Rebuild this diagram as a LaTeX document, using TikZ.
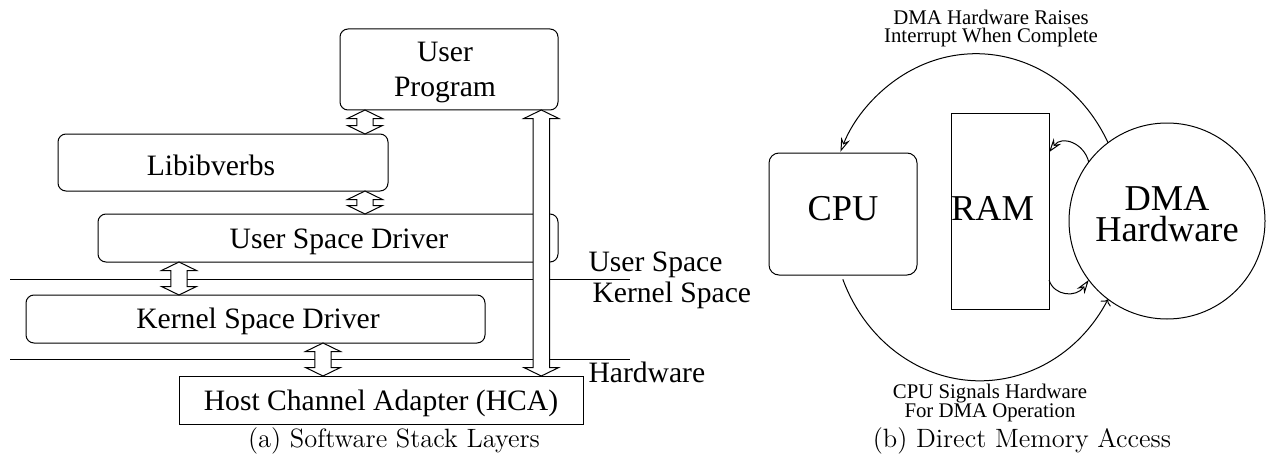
\documentclass[tikz,border=0pt]{standalone}
\usepackage{fontspec}
\usetikzlibrary{calc,arrows.meta}
\newfontfamily\tms{Liberation Serif}

% hollow double-headed block arrow between two points (top tip, bottom tip)
\newcommand\fatarrow[2]{%
  \draw[fatline] let \p1=#1, \p2=#2 in
    (\x1,\y1) -- (\x1+8.75pt,\y1-4.25pt) -- (\x1+4.1pt,\y1-4.25pt)
    -- (\x1+4.1pt,\y2+4.25pt) -- (\x1+8.75pt,\y2+4.25pt) -- (\x1,\y2)
    -- (\x1-8.75pt,\y2+4.25pt) -- (\x1-4.1pt,\y2+4.25pt)
    -- (\x1-4.1pt,\y1-4.25pt) -- (\x1-8.75pt,\y1-4.25pt) -- cycle;}

\begin{document}
\begin{tikzpicture}[x=0.5pt,y=-0.5pt,line width=0.5pt,
  layer/.style={draw,rounded corners=4pt,inner sep=0pt,outer sep=0pt},
  flat/.style={draw,inner sep=0pt,outer sep=0pt},
  fatline/.style={draw,fill=white,line width=0.5pt,line join=miter},
  txt/.style={font=\tms\fontsize{14.8pt}{17.5pt}\selectfont,inner sep=0pt,anchor=base,align=center},
  bigtxt/.style={font=\tms\fontsize{18.2pt}{14pt}\selectfont,inner sep=0pt,anchor=base},
  note/.style={font=\tms\fontsize{10.4pt}{9.25pt}\selectfont,inner sep=0pt,anchor=base,align=center},
  captxt/.style={font=\fontsize{13.25pt}{15pt}\selectfont,inner sep=0pt,anchor=base},
  flow/.style={-{Stealth[open,length=7pt,width=4.6pt,inset=2.4pt]}}]
\useasboundingbox (0,0) rectangle (1267,465);

% ---------- software stack ----------
\node[layer,minimum width=109pt,minimum height=40.5pt] (up)  at (449,69.5) {};
\node[layer,minimum width=165pt,minimum height=28.5pt] (lib) at (223,162.5) {};
\node[layer,minimum width=230pt,minimum height=24pt]   (usd) at (328,238) {};
\node[layer,minimum width=229.5pt,minimum height=24pt] (ksd) at (255.5,319) {};
\node[flat,minimum width=202pt,minimum height=24pt]    (hca) at (381,400) {};

% multi-line texts are anchored at the baseline of their last line
\node[txt] (uptext)  at (445,97)  {User\\Program};
\node[txt] (libtext) at (211,175) {Libibverbs};
\node[txt] (usdtext) at (339,248) {User Space Driver};
\node[txt] (ksdtext) at (258,328) {Kernel Space Driver};
\node[txt] (hcatext) at (381,410) {Host Channel Adapter (HCA)};

% privilege boundaries
\draw (10,279) -- (630,279);
\draw (10,359) -- (630,359);
\node[txt,anchor=base west] (uspace) at (588,271) {User Space};
\node[txt,anchor=base west] (kspace) at (592,302) {Kernel Space};
\node[txt,anchor=base west] (hwlbl)  at (588,382) {Hardware};

% block arrows
\coordinate (ax1) at (365,0);
\coordinate (ax2) at (179,0);
\coordinate (ax3) at (323,0);
\coordinate (ax4) at (541.3,0);
\fatarrow{(up.south -| ax1)}{(lib.north -| ax1)}
\fatarrow{(lib.south -| ax1)}{(usd.north -| ax1)}
\fatarrow{(usd.south -| ax2)}{(ksd.north -| ax2)}
\fatarrow{(ksd.south -| ax3)}{(hca.north -| ax3)}
\fatarrow{(up.south -| ax4)}{(hca.north -| ax4)}

\node[captxt] (capa) at (394,447.5) {(a) Software Stack Layers};

% ---------- direct memory access ----------
\node[layer,rounded corners=5pt,minimum width=74pt,minimum height=61pt] (cpu) at (843,214) {};
\node[flat,minimum width=49pt,minimum height=98pt] (ram) at (1000,211) {};
\node[draw,circle,inner sep=0pt,outer sep=0pt,minimum size=98pt] (dma) at (1167,221) {};

\node[bigtxt] (cputext) at (843,220) {CPU};
\node[bigtxt] (ramtext) at (992.5,220) {RAM};
\node[bigtxt] (dmatexta) at (1167,210.5) {DMA};
\node[bigtxt] (dmatextb) at (1167,241) {Hardware};

% interrupt path over the top, request path underneath
\draw[flow] (dma.127) arc[start angle=-27,end angle=-156.5,x radius=148,y radius=163];
\draw[flow,<-] (dma.233) arc[start angle=30,end angle=157.8,x radius=148,y radius=163];

% transfers between memory and the DMA engine
\coordinate (ramin)  at ($(ram.north east)!0.2!(ram.south east)$);
\coordinate (ramout) at ($(ram.north east)!0.852!(ram.south east)$);
\draw[flow] (dma.143) .. controls (1084,143) and (1062,135) .. (ramin);
\draw[flow] (ramout) .. controls (1054,296) and (1076,298) .. (dma.217);

\node[note] (irq) at (991,43)  {DMA Hardware Raises\\Interrupt When Complete};
\node[note] (sig) at (990,417) {CPU Signals Hardware\\For DMA Operation};

\node[captxt] (capb) at (1022,447.5) {(b) Direct Memory Access};
\end{tikzpicture}
\end{document}
